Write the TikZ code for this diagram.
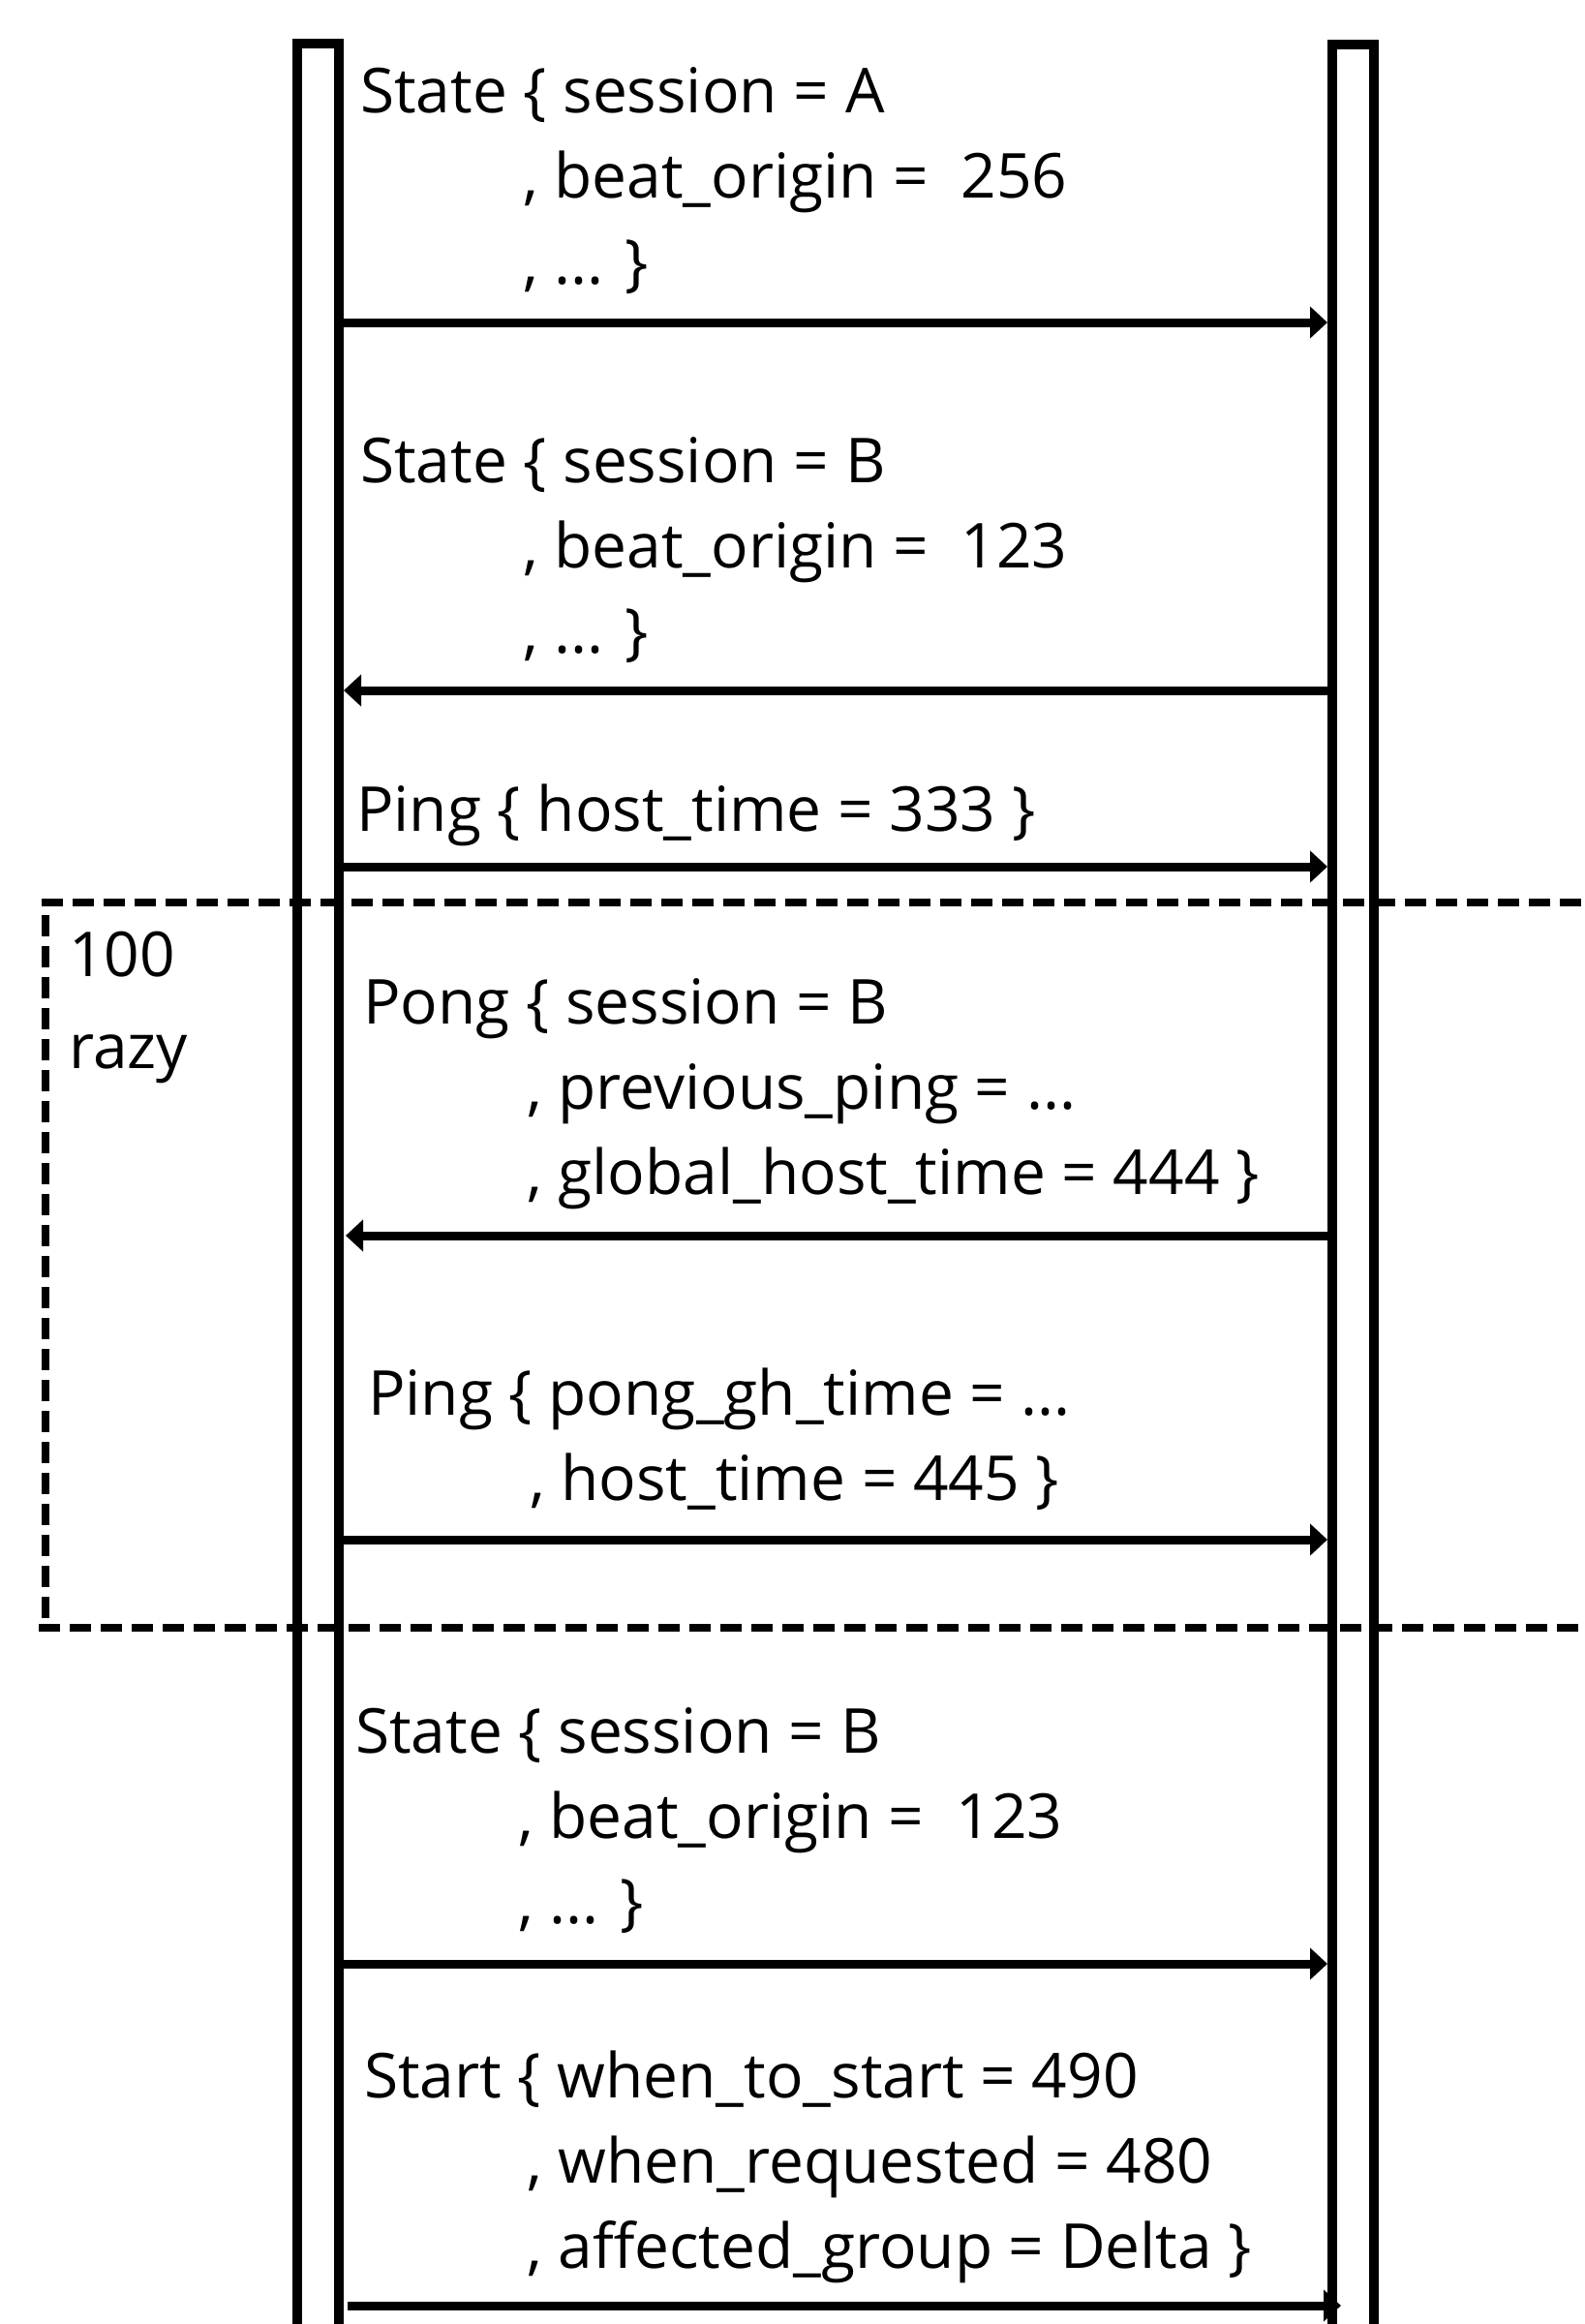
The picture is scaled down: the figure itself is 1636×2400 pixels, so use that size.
\documentclass[tikz,border=0pt]{standalone}
\usepackage{fontspec}
\setmainfont{Open Sans}
\usetikzlibrary{arrows.meta}
\tikzset{
  lifeline/.style={draw, line width=10pt, inner sep=0pt, outer sep=0pt, minimum width=43pt, minimum height=2420pt, anchor=north},
  lbl/.style={anchor=base west, inner sep=0pt, font=\fontsize{64pt}{88pt}\selectfont},
  msg/.style={line width=9pt, -{Triangle[length=18pt,width=32pt]}},
  loopline/.style={line width=8pt, dash pattern=on 22pt off 10pt},
}
\begin{document}
\begin{tikzpicture}[x=1pt, y=-1pt]
\useasboundingbox (0,0) rectangle (1636,2400);

% the two lifelines
\node[lifeline] (L) at (328.5,45) {};
\node[lifeline] (R) at (1397.5,46) {};

% State A
\node[lbl] (a1) at (372,117) {State \{ session = A};
\node[lbl] (a2) at (540,205) {, beat\_origin = \ 256};
\node[lbl] (a3) at (540,293) {, ... \}};
\draw[msg] ([xshift=5pt]L.east |- 0,333) -- ([xshift=-5pt]R.west |- 0,333);

% State B (reply)
\node[lbl] (b1) at (372,498) {State \{ session = B};
\node[lbl] (b2) at (540,586) {, beat\_origin = \ 123};
\node[lbl] (b3) at (540,674) {, ... \}};
\draw[msg] ([xshift=-5pt]R.west |- 0,713) -- ([xshift=5pt]L.east |- 0,713);

% first ping
\node[lbl] (p1) at (368,858) {Ping \{ host\_time = 333 \}};
\draw[msg] ([xshift=5pt]L.east |- 0,895) -- ([xshift=-5pt]R.west |- 0,895);

% repeated exchange
\draw[loopline] (43,932) -- (1640,932);
\draw[loopline] (47,945) -- (47,1677);
\draw[loopline] (40,1681) -- (1640,1681);
\node[lbl] (n1) at (71,1008) {100};
\node[lbl] (n2) at (71,1103) {razy};

\node[lbl] (q1) at (375,1057) {Pong \{ session = B};
\node[lbl] (q2) at (544,1145) {, previous\_ping = ...};
\node[lbl] (q3) at (544,1233) {, global\_host\_time = 444 \}};
\draw[msg] ([xshift=-5pt]R.west |- 0,1276) -- ([xshift=7pt]L.east |- 0,1276);

\node[lbl] (r1) at (380,1461) {Ping \{ pong\_gh\_time = ...};
\node[lbl] (r2) at (547,1549) {, host\_time = 445 \}};
\draw[msg] ([xshift=5pt]L.east |- 0,1590) -- ([xshift=-5pt]R.west |- 0,1590);

% State B (forward)
\node[lbl] (c1) at (367,1810) {State \{ session = B};
\node[lbl] (c2) at (535,1898) {, beat\_origin = \ 123};
\node[lbl] (c3) at (535,1986) {, ... \}};
\draw[msg] ([xshift=5pt]L.east |- 0,2028) -- ([xshift=-5pt]R.west |- 0,2028);

% Start
\node[lbl] (d1) at (376,2166) {Start \{ when\_to\_start = 490};
\node[lbl] (d2) at (544,2254) {, when\_requested = 480};
\node[lbl] (d3) at (544,2342) {, affected\_group = Delta \}};
\draw[msg] ([xshift=9pt]L.east |- 0,2381) -- ([xshift=9pt]R.west |- 0,2381);
\end{tikzpicture}
\end{document}
